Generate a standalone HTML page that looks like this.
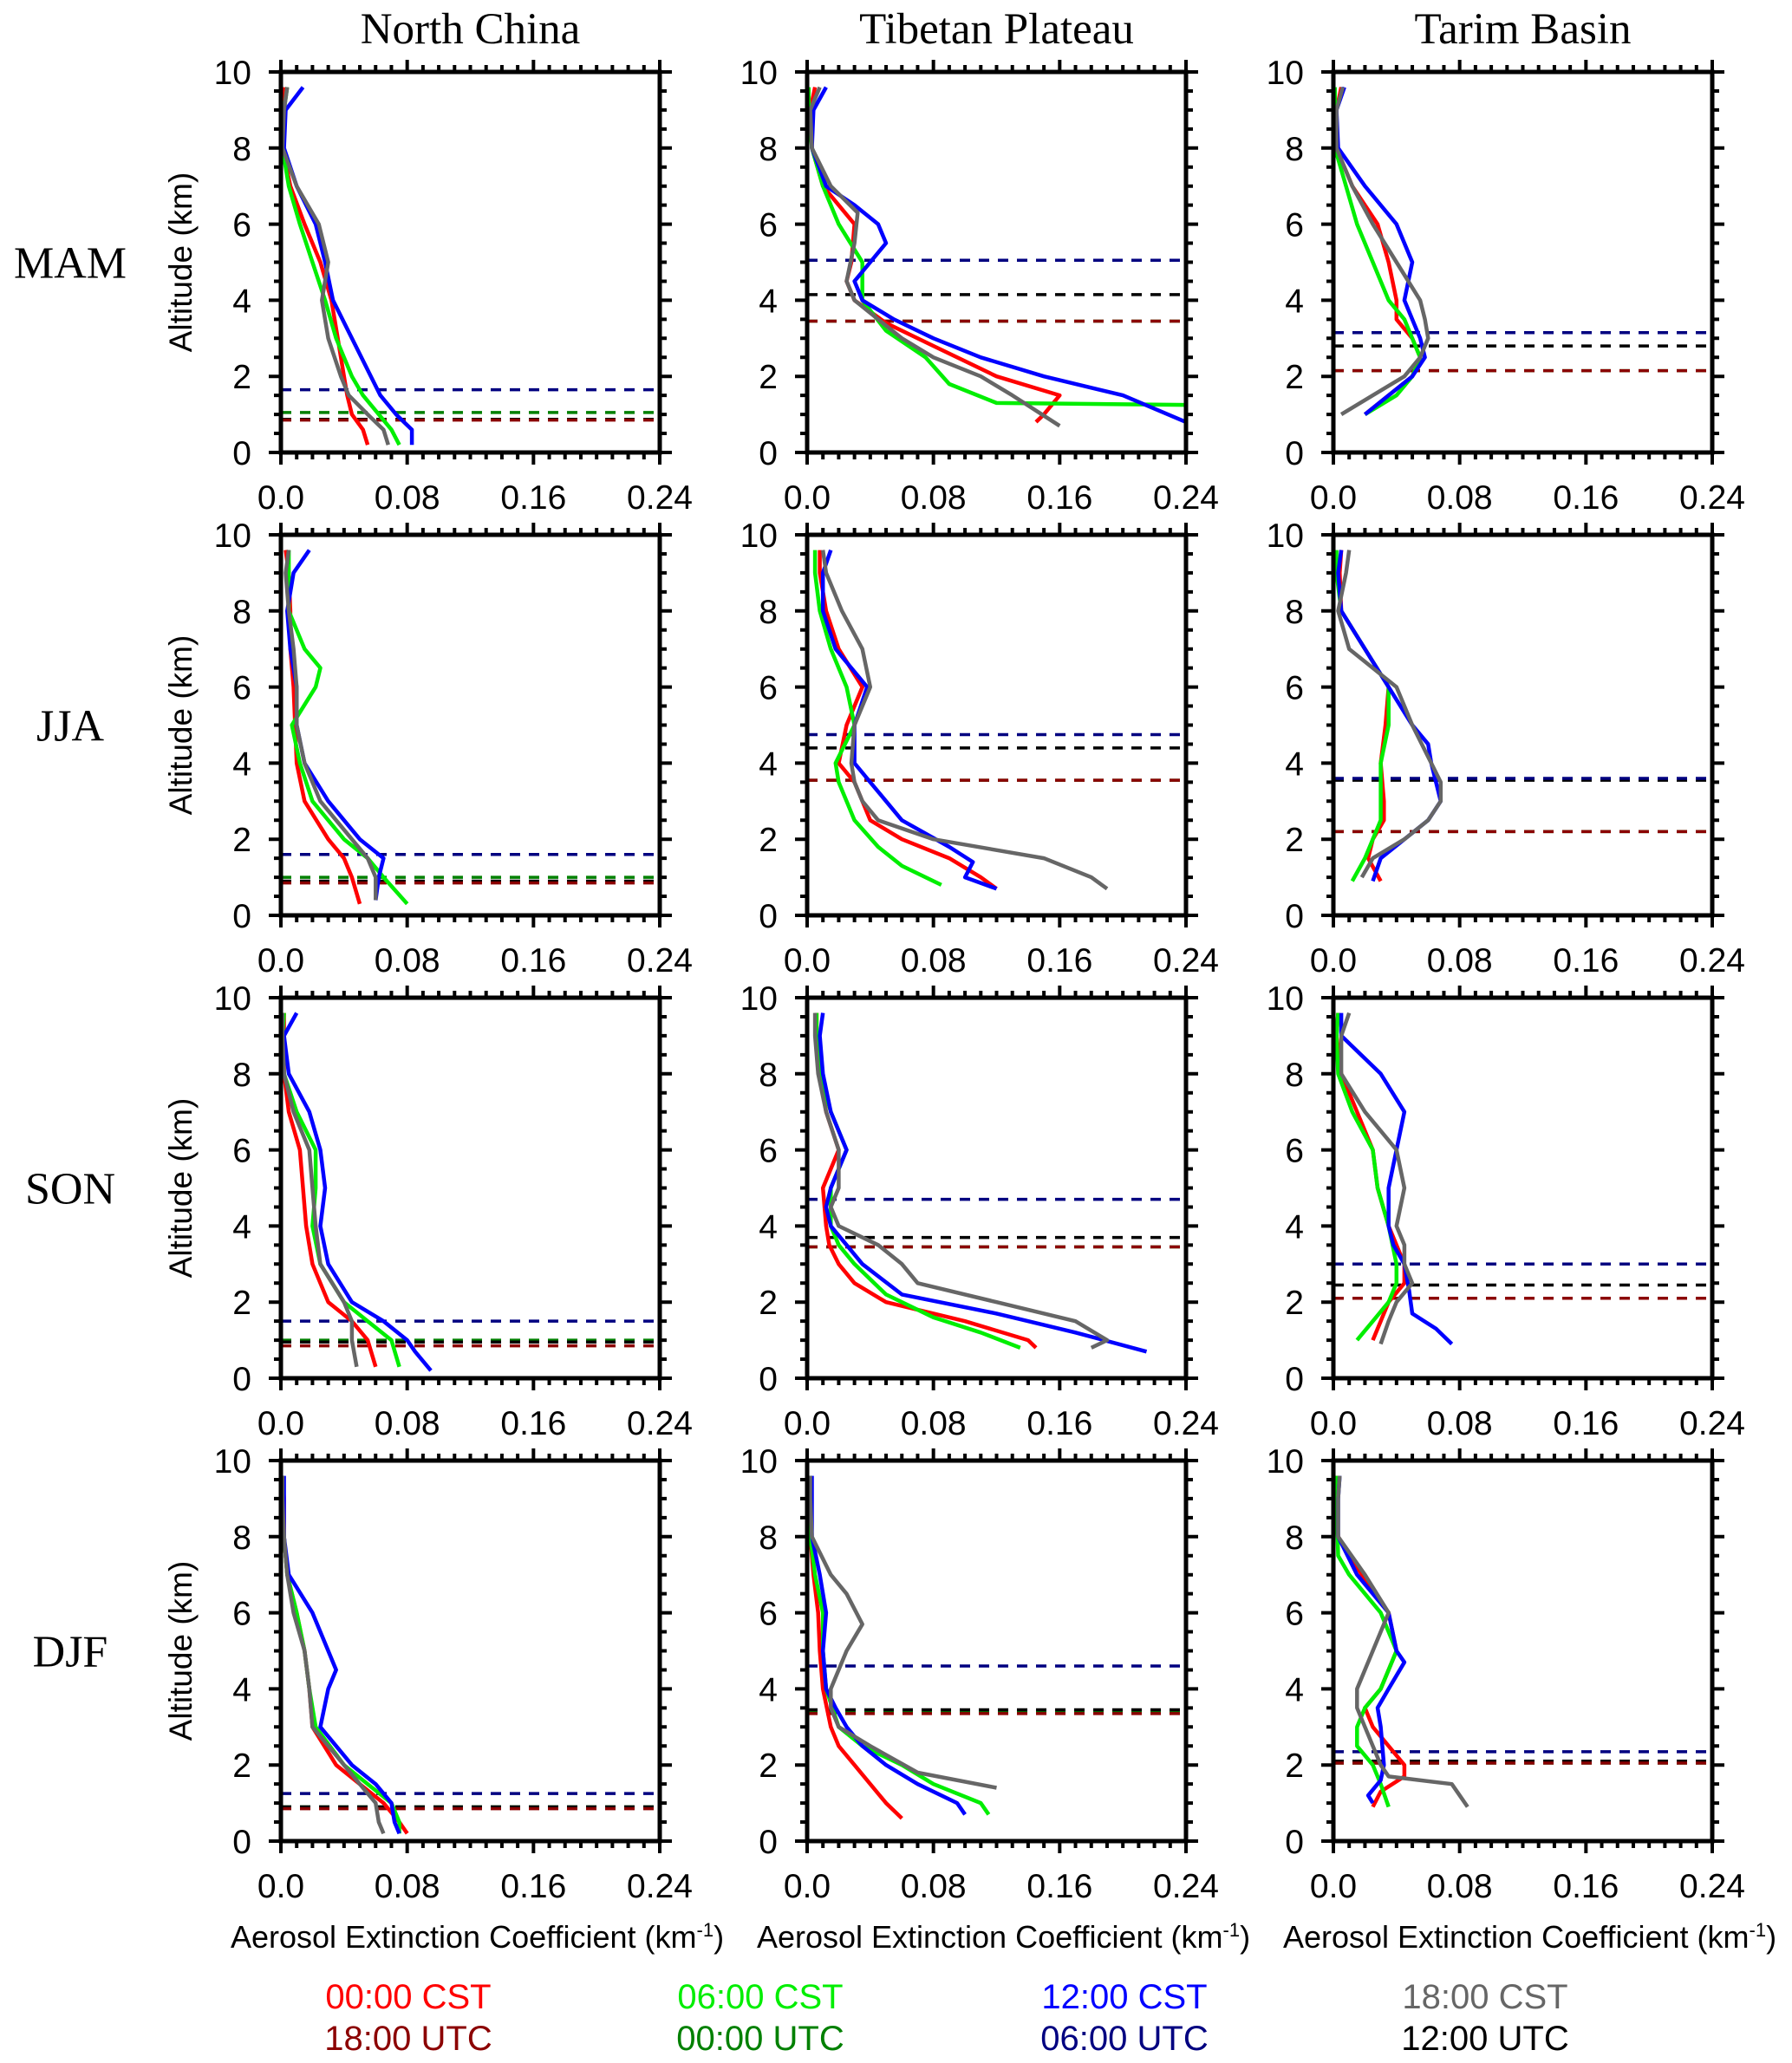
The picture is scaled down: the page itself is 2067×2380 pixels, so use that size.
<!DOCTYPE html>
<html><head><meta charset="utf-8"><style>
html,body{margin:0;padding:0;background:#fff;}
svg{display:block;font-family:"Liberation Sans",sans-serif;}
</style></head><body>
<svg id="fig" width="2067" height="2380" viewBox="0 0 2067 2380" xmlns="http://www.w3.org/2000/svg"></svg>
<script>
const regions = ["North China","Tibetan Plateau","Tarim Basin"];
const seasons = ["MAM","JJA","SON","DJF"];
const xTicks = [0,0.08,0.16,0.24];
const xTickLabels = ["0.0","0.08","0.16","0.24"];
const yTicks = [0,2,4,6,8,10];
const seriesNames = ["red","green","blue","gray"];
const seriesColors = ["#ff0000","#00ee00","#0000ff","#666666"];
const pblNames = ["utc18","utc00","utc06","utc12"];
const pblColors = ["#8b0000","#008000","#000080","#000000"];

// [altitude km, extinction km^-1]
const MAM_NC_red=[[0.2,.055],[0.6,.052],[1,.045],[1.5,.042],[2,.040],[3,.036],[4,.032],[5,.025],[6,.015],[7,.006],[8,.001],[9,.001],[9.6,.002]];
const MAM_NC_green=[[0.2,.075],[0.6,.070],[1,.062],[1.5,.052],[2,.045],[3,.035],[4,.028],[5,.020],[6,.012],[7,.005],[8,.001],[9,.002],[9.6,.004]];
const MAM_NC_blue=[[0.2,.083],[0.6,.083],[1,.073],[1.5,.063],[2,.057],[3,.045],[4,.033],[5,.028],[6,.022],[7,.010],[8,.002],[9,.003],[9.6,.014]];
const MAM_NC_gray=[[0.2,.068],[0.6,.065],[1,.055],[1.5,.043],[2,.038],[3,.030],[4,.026],[5,.030],[6,.024],[7,.010],[8,.001],[9,.002],[9.6,.004]];
const MAM_NC_pbl=[0.85,1.05,1.65,0.87];

const MAM_TP_red=[[0.8,.145],[1.0,.15],[1.5,.16],[2,.12],[2.8,.08],[3.4,.05],[4,.03],[4.5,.025],[5,.028],[6,.03],[7,.01],[8,.003],[9,.002],[9.6,.005]];
const MAM_TP_green=[[1.25,.24],[1.3,.12],[1.8,.09],[2.5,.075],[3.2,.05],[4,.035],[5,.035],[6,.02],[7,.01],[8,.003],[9,.001],[9.6,.001]];
const MAM_TP_blue=[[0.8,.24],[1.5,.2],[2,.15],[2.5,.11],[3,.08],[3.5,.055],[4,.035],[4.5,.03],[5.5,.05],[6,.045],[6.5,.03],[7,.012],[8,.003],[9,.004],[9.6,.012]];
const MAM_TP_gray=[[0.7,.16],[1.5,.13],[2,.11],[2.5,.08],[3,.06],[3.5,.045],[4,.03],[4.5,.025],[5.5,.03],[6.3,.032],[7,.015],[8,.003],[9,.002],[9.6,.008]];
const MAM_TP_pbl=[3.45,3.45,5.05,4.15];

const MAM_TB_red=[[1,.02],[1.5,.035],[2,.05],[2.5,.055],[3,.05],[3.5,.04],[4,.04],[5,.035],[6,.028],[7,.012],[8,.002],[9,.002],[9.6,.005]];
const MAM_TB_green=[[1,.02],[1.5,.04],[2,.05],[2.5,.055],[3,.05],[3.5,.045],[4,.035],[5,.025],[6,.015],[7,.008],[8,.001],[9,.001],[9.6,.001]];
const MAM_TB_blue=[[1,.02],[1.5,.035],[2,.05],[2.5,.058],[3,.055],[3.5,.05],[4,.045],[5,.05],[6,.04],[7,.02],[8,.003],[9,.002],[9.6,.007]];
const MAM_TB_gray=[[1,.005],[1.5,.025],[2,.045],[2.5,.055],[3,.06],[3.5,.058],[4,.055],[5,.04],[6,.025],[7,.012],[8,.002],[9,.002],[9.6,.006]];
const MAM_TB_pbl=[2.15,2.15,3.15,2.8];

const JJA_NC_red=[[0.3,.05],[1,.045],[1.5,.04],[2,.03],[3,.015],[4,.01],[5,.009],[6,.008],[7,.006],[8,.006],[9,.005],[9.6,.003]];
const JJA_NC_green=[[0.3,.08],[1,.065],[1.5,.055],[2,.04],[3,.02],[4,.012],[5,.007],[6,.022],[6.5,.025],[7,.015],[8,.005],[9,.005],[9.6,.005]];
const JJA_NC_blue=[[0.4,.06],[1,.062],[1.5,.065],[2,.05],[3,.03],[4,.015],[5,.01],[6,.01],[7,.006],[8,.004],[9,.008],[9.6,.018]];
const JJA_NC_gray=[[0.4,.06],[1,.06],[1.5,.055],[2,.045],[3,.025],[4,.015],[5,.01],[6,.01],[7,.008],[8,.005],[9,.003],[9.6,.005]];
const JJA_NC_pbl=[0.85,1.0,1.6,0.9];

const JJA_TP_red=[[0.7,.12],[1,.11],[1.5,.09],[2,.06],[2.5,.04],[3,.035],[3.5,.03],[4,.02],[5,.025],[6,.035],[7,.02],[8,.012],[9,.008],[9.6,.008]];
const JJA_TP_green=[[0.8,.085],[1.3,.06],[1.8,.045],[2.5,.03],[3,.025],[3.5,.02],[4,.018],[5,.03],[6,.025],[7,.015],[8,.008],[9,.005],[9.6,.005]];
const JJA_TP_blue=[[0.7,.12],[1,.1],[1.4,.105],[1.8,.09],[2.5,.06],[3.5,.04],[4,.03],[4.5,.03],[5,.03],[6,.038],[7,.018],[8,.01],[9,.01],[9.6,.015]];
const JJA_TP_gray=[[0.7,.19],[1,.18],[1.5,.15],[2,.08],[2.5,.045],[3,.035],[3.5,.03],[4,.028],[5,.03],[6,.04],[7,.035],[8,.022],[9,.012],[9.6,.01]];
const JJA_TP_pbl=[3.55,3.55,4.75,4.4];

const JJA_TB_red=[[0.9,.03],[1.5,.022],[2,.025],[2.5,.032],[3,.032],[4,.03],[5,.033],[6,.035],[7,.02],[8,.005],[9,.004],[9.6,.005]];
const JJA_TB_green=[[0.9,.012],[1.5,.02],[2,.025],[2.5,.03],[3,.03],[4,.03],[5,.035],[6,.035],[7,.02],[8,.005],[9,.002],[9.6,.002]];
const JJA_TB_blue=[[0.9,.025],[1.5,.03],[2,.045],[2.5,.06],[3,.068],[3.5,.065],[4,.062],[4.5,.06],[5,.05],[6,.035],[7,.02],[8,.005],[9,.003],[9.6,.005]];
const JJA_TB_gray=[[1,.018],[1.5,.025],[2,.045],[2.5,.06],[3,.068],[3.5,.068],[4,.062],[5,.05],[6,.04],[7,.01],[8,.003],[9,.008],[9.6,.01]];
const JJA_TB_pbl=[2.2,2.2,3.6,3.55];

const SON_NC_red=[[0.3,.06],[1,.055],[1.5,.045],[2,.03],[3,.02],[4,.016],[5,.014],[6,.012],[7,.005],[8,.002],[9,.002],[9.6,.002]];
const SON_NC_green=[[0.3,.075],[1,.07],[1.5,.055],[2,.04],[3,.025],[4,.02],[5,.022],[6,.022],[7,.01],[8,.002],[9,.001],[9.6,.002]];
const SON_NC_blue=[[0.2,.095],[0.7,.085],[1,.08],[1.5,.065],[2,.045],[3,.03],[4,.025],[5,.028],[6,.025],[7,.018],[8,.005],[9,.002],[9.6,.01]];
const SON_NC_gray=[[0.3,.048],[1,.045],[1.5,.045],[2,.04],[3,.025],[4,.022],[5,.02],[6,.018],[7,.008],[8,.002],[9,.001],[9.6,.001]];
const SON_NC_pbl=[0.85,1.0,1.5,0.95];

const SON_TP_red=[[0.8,.145],[1,.14],[1.5,.1],[2,.05],[2.5,.03],[3,.02],[3.5,.014],[4,.012],[5,.01],[6,.02],[7,.012],[8,.008],[9,.006],[9.6,.006]];
const SON_TP_green=[[0.8,.135],[1.2,.11],[1.6,.08],[2.2,.05],[3,.03],[3.5,.02],[4,.015],[5,.015],[6,.025],[7,.015],[8,.008],[9,.006],[9.6,.006]];
const SON_TP_blue=[[0.7,.215],[1.2,.17],[1.7,.12],[2.2,.06],[3,.035],[3.5,.025],[4,.015],[4.5,.012],[5,.015],[6,.025],[7,.015],[8,.01],[9,.008],[9.6,.01]];
const SON_TP_gray=[[0.8,.18],[1,.19],[1.5,.17],[2,.12],[2.5,.07],[3,.06],[3.5,.045],[4,.02],[4.5,.015],[5,.02],[6,.02],[7,.012],[8,.007],[9,.005],[9.6,.005]];
const SON_TP_pbl=[3.45,3.45,4.7,3.7];

const SON_TB_red=[[1,.025],[1.5,.03],[2,.035],[2.5,.045],[3,.045],[4,.035],[5,.028],[6,.025],[7,.015],[8,.005],[9,.002],[9.6,.003]];
const SON_TB_green=[[1,.015],[1.5,.025],[2,.035],[2.5,.04],[3,.04],[4,.035],[5,.028],[6,.025],[7,.012],[8,.003],[9,.002],[9.6,.003]];
const SON_TB_blue=[[0.9,.075],[1.3,.065],[1.7,.05],[2.3,.048],[3,.045],[3.5,.038],[4,.035],[5,.035],[6,.04],[7,.045],[8,.03],[9,.005],[9.6,.005]];
const SON_TB_gray=[[0.9,.03],[1.5,.035],[2,.04],[2.5,.05],[3,.045],[3.5,.045],[4,.04],[5,.045],[6,.04],[7,.02],[8,.005],[9,.005],[9.6,.01]];
const SON_TB_pbl=[2.1,2.1,3.0,2.45];

const DJF_NC_red=[[0.2,.08],[0.5,.075],[1,.065],[1.5,.05],[2,.035],[3,.02],[4,.018],[5,.015],[6,.01],[7,.004],[8,.002],[9,.002],[9.6,.001]];
const DJF_NC_green=[[0.2,.075],[0.5,.075],[1,.07],[1.5,.055],[2,.04],[3,.022],[4,.018],[5,.015],[6,.01],[7,.004],[8,.002],[9,.001],[9.6,.001]];
const DJF_NC_blue=[[0.2,.075],[0.5,.072],[1,.07],[1.5,.06],[2,.045],[3,.025],[4,.03],[4.5,.035],[5,.03],[6,.02],[7,.005],[8,.002],[9,.002],[9.6,.002]];
const DJF_NC_gray=[[0.2,.065],[0.5,.062],[1,.06],[1.5,.05],[2,.04],[3,.02],[4,.018],[5,.015],[6,.008],[7,.004],[8,.002],[9,.001],[9.6,.001]];
const DJF_NC_pbl=[0.85,0.9,1.25,0.9];

const DJF_TP_red=[[0.6,.06],[1,.05],[1.5,.04],[2,.03],[2.5,.02],[3,.015],[4,.01],[5,.008],[6,.007],[7,.004],[8,.002],[9,.002],[9.6,.002]];
const DJF_TP_green=[[0.7,.115],[1,.11],[1.5,.08],[2,.06],[2.5,.035],[3,.02],[4,.012],[5,.01],[6,.01],[7,.005],[8,.002],[9,.002],[9.6,.002]];
const DJF_TP_blue=[[0.7,.1],[1,.095],[1.5,.07],[2,.05],[2.5,.035],[3,.025],[3.5,.018],[4,.012],[5,.01],[6,.012],[7,.008],[8,.003],[9,.003],[9.6,.003]];
const DJF_TP_gray=[[1.4,.12],[1.8,.07],[2.5,.04],[3,.02],[3.5,.015],[4,.015],[5,.025],[5.7,.035],[6.5,.025],[7,.015],[8,.003],[9,.002],[9.6,.002]];
const DJF_TP_pbl=[3.35,3.4,4.6,3.45];

const DJF_TB_red=[[0.9,.025],[1.3,.03],[1.7,.045],[2,.045],[2.5,.035],[3,.025],[3.5,.02],[4,.03],[5,.04],[6,.035],[7,.018],[8,.003],[9,.002],[9.6,.002]];
const DJF_TB_green=[[0.9,.035],[1.5,.03],[2,.025],[2.5,.015],[3,.015],[3.5,.02],[4,.03],[5,.04],[6,.03],[7,.01],[7.5,.003],[9,.002],[9.6,.002]];
const DJF_TB_blue=[[1,.025],[1.2,.022],[1.6,.03],[2,.032],[3,.03],[3.5,.028],[4,.035],[4.7,.045],[5,.04],[6,.035],[7,.015],[8,.003],[9,.003],[9.6,.004]];
const DJF_TB_gray=[[0.9,.085],[1.2,.08],[1.5,.075],[1.7,.035],[2,.03],[3,.02],[3.5,.015],[4,.015],[5,.025],[6,.035],[7,.02],[8,.003],[9,.003],[9.6,.004]];
const DJF_TB_pbl=[2.05,2.05,2.35,2.1];

const panelData = [
 [[MAM_NC_red,MAM_NC_green,MAM_NC_blue,MAM_NC_gray,MAM_NC_pbl],[MAM_TP_red,MAM_TP_green,MAM_TP_blue,MAM_TP_gray,MAM_TP_pbl],[MAM_TB_red,MAM_TB_green,MAM_TB_blue,MAM_TB_gray,MAM_TB_pbl]],
 [[JJA_NC_red,JJA_NC_green,JJA_NC_blue,JJA_NC_gray,JJA_NC_pbl],[JJA_TP_red,JJA_TP_green,JJA_TP_blue,JJA_TP_gray,JJA_TP_pbl],[JJA_TB_red,JJA_TB_green,JJA_TB_blue,JJA_TB_gray,JJA_TB_pbl]],
 [[SON_NC_red,SON_NC_green,SON_NC_blue,SON_NC_gray,SON_NC_pbl],[SON_TP_red,SON_TP_green,SON_TP_blue,SON_TP_gray,SON_TP_pbl],[SON_TB_red,SON_TB_green,SON_TB_blue,SON_TB_gray,SON_TB_pbl]],
 [[DJF_NC_red,DJF_NC_green,DJF_NC_blue,DJF_NC_gray,DJF_NC_pbl],[DJF_TP_red,DJF_TP_green,DJF_TP_blue,DJF_TP_gray,DJF_TP_pbl],[DJF_TB_red,DJF_TB_green,DJF_TB_blue,DJF_TB_gray,DJF_TB_pbl]]
];

const NS="http://www.w3.org/2000/svg";
const svg=document.getElementById('fig');
const PL=[324,931,1538], PT=[83,617,1151,1685], PW=437, PH=439;
function mk(tag,attrs,parent,text){const e=document.createElementNS(NS,tag);for(const k in attrs)e.setAttribute(k,attrs[k]);if(text!==undefined)e.textContent=text;(parent||svg).appendChild(e);return e;}

for(let c=0;c<3;c++){
  const t=mk('text',{x:PL[c]+PW/2,y:50,'text-anchor':'middle','font-size':51,'font-family':'"Liberation Serif",serif'},svg,regions[c]);
  
  
}
for(let r=0;r<4;r++){
  const t=mk('text',{x:81,y:PT[r]+PH/2+18,'text-anchor':'middle','font-size':52,'font-family':'"Liberation Serif",serif'},svg,seasons[r]);
  
  
}

const pblOrder=[1,3,2,0];
for(let r=0;r<4;r++)for(let c=0;c<3;c++){
  const L=PL[c],T=PT[r],B=T+PH,R=L+PW;
  const g=mk('g',{});
  
  
  const xs=v=>L+v/0.24*PW, ys=a=>B-a/10*PH;
  const d=panelData[r][c];
  for(const k of pblOrder){
    const y=ys(d[4][k]);
    const ln=mk('line',{x1:L,x2:R,y1:y,y2:y,stroke:pblColors[k],'stroke-width':3.5,'stroke-dasharray':'12,10'},g);
    
    
  }
  for(let s=0;s<4;s++){
    const pts=d[s].map(p=>xs(p[1]).toFixed(1)+','+ys(p[0]).toFixed(1)).join(' ');
    const pl=mk('polyline',{points:pts,fill:'none',stroke:seriesColors[s],'stroke-width':4.5,'stroke-linejoin':'round'},g);
    
    
  }
  const fr=mk('rect',{x:L,y:T,width:PW,height:PH,fill:'none',stroke:'#000','stroke-width':5},g);
  
  
  let tk='';
  for(let i=0;i<=24;i++){const x=xs(i*0.01),len=(i%8===0)?14:8;tk+=`M${x},${B}v${len}M${x},${T}v${-len}`;}
  for(let i=0;i<=20;i++){const y=ys(i*0.5),len=(i%4===0)?14:8;tk+=`M${L},${y}h${-len}M${R},${y}h${len}`;}
  const tp=mk('path',{d:tk,stroke:'#000','stroke-width':4},g);
  
  
  xTicks.forEach((v,i)=>{
    const t=mk('text',{x:xs(v),y:B+65,'text-anchor':'middle','font-size':39},g,xTickLabels[i]);
    
    
  });
  yTicks.forEach(v=>{
    const t=mk('text',{x:L-34,y:ys(v)+14,'text-anchor':'end','font-size':39},g,String(v));
    
    
  });
  if(c===0){
    const t=mk('text',{x:0,y:0,'text-anchor':'middle','font-size':37,transform:`translate(221,${T+PH/2}) rotate(-90)`},g,'Altitude (km)');
    
    
  }
  if(r===3){
    const t=mk('text',{x:L+PW/2+8,y:2247,'text-anchor':'middle','font-size':36},g,'Aerosol Extinction Coefficient (km');
    mk('tspan',{dy:-13,'font-size':22},t,'-1');
    mk('tspan',{dy:13},t,')');
    
    
  }
}

const legX=[471,877,1297,1713];
const legTop=["00:00 CST","06:00 CST","12:00 CST","18:00 CST"];
const legBot=["18:00 UTC","00:00 UTC","06:00 UTC","12:00 UTC"];
for(let k=0;k<4;k++){
  const t1=mk('text',{x:legX[k],y:2317,'text-anchor':'middle','font-size':40,fill:seriesColors[k]},svg,legTop[k]);
  
  
  const t2=mk('text',{x:legX[k],y:2365,'text-anchor':'middle','font-size':40,fill:pblColors[k]},svg,legBot[k]);
  
  
}
</script>
</body></html>
